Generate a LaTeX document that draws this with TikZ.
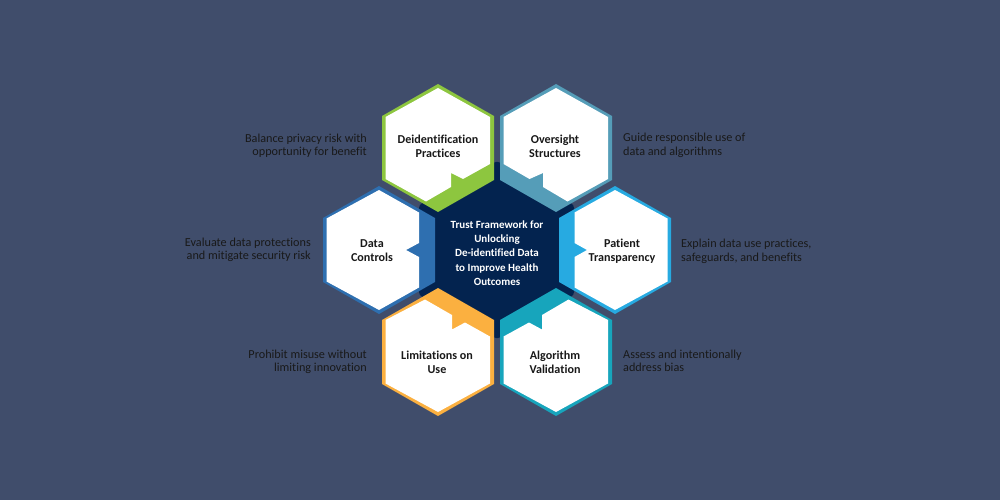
\documentclass[tikz,border=0pt]{standalone}
\usepackage{fontspec}
\setmainfont[Ligatures=NoCommon]{Carlito}
\definecolor{slatebg}{HTML}{404D6B}
\definecolor{navycore}{HTML}{03234F}
\definecolor{deidgreen}{HTML}{8DC63F}
\definecolor{overteal}{HTML}{559DB8}
\definecolor{ctrlblue}{HTML}{2E6FB0}
\definecolor{patsky}{HTML}{27AAE1}
\definecolor{limorange}{HTML}{FBB040}
\definecolor{algoteal}{HTML}{17A5BC}
\tikzset{
	title/.style = {align=center, inner sep=0pt, text=black!90, font=\fontsize{12.1}{14}\selectfont\bfseries},
	core/.style = {align=center, inner sep=0pt, text=white, font=\fontsize{11}{14.3}\selectfont\bfseries},
	noteL/.style = {align=right, anchor=east, inner sep=0pt, text=black!90, font=\fontsize{12.2}{13.5}\selectfont},
	noteR/.style = {align=left, anchor=west, inner sep=0pt, text=black!90, font=\fontsize{12.2}{13.5}\selectfont}
}
\begin{document}
\begin{tikzpicture}[x=1pt,y=-1pt]
	\useasboundingbox (0,0) rectangle (1000,500);
	\fill[slatebg] (0,0) rectangle (1000,500);
	% centre
	\fill[navycore, rounded corners=3pt] (497,161) -- (574,205) -- (574,295) -- (497,339) -- (419,295) -- (419,205) -- cycle;
	% outer hexagons
	\foreach \cx/\cy/\col in {438/148/deidgreen, 556/148/overteal, 379/250/ctrlblue, 615/250/patsky, 438/352/limorange, 556/352/algoteal}
		\fill[\col] (\cx,\cy-64) -- (\cx+56,\cy-32) -- (\cx+56,\cy+32) -- (\cx,\cy+64) -- (\cx-56,\cy+32) -- (\cx-56,\cy-32) -- cycle;
	% white insides with notch
	\fill[white] (438,88) -- (490,117) -- (490,164) -- (463,179) -- (451,173) -- (451,187) -- (426,201.5) -- (385.5,179) -- (385.5,117) -- cycle;
	\fill[white] (556,88) -- (608,117) -- (608,179) -- (567.5,201.5) -- (543,187) -- (543,173) -- (529.5,179) -- (503.5,164) -- (503.5,117) -- cycle;
	\fill[white] (379,190) -- (419,212.5) -- (419,243) -- (406,250) -- (419,257) -- (419,287.5) -- (379,310) -- (326.5,281.5) -- (326.5,218.5) -- cycle;
	\fill[white] (615,190) -- (667.5,218.5) -- (667.5,281.5) -- (615,310) -- (574.5,287.5) -- (574.5,257) -- (587,250) -- (574.5,243) -- (574.5,212.5) -- cycle;
	\fill[white] (425,299.5) -- (452,315) -- (452,329.5) -- (465,322.5) -- (490,336.5) -- (490,383.5) -- (438,412) -- (385.5,383.5) -- (385.5,320) -- cycle;
	\fill[white] (568.5,299.5) -- (608,320) -- (608,383.5) -- (556,412) -- (503.5,383.5) -- (503.5,336.5) -- (529,322.5) -- (542,329.5) -- (542,315) -- cycle;
	% labels
	\node (deid) at (438,146) [title] {Deidentification\\Practices};
	\node (over) at (555,146) [title] {Oversight\\Structures};
	\node (ctrl) at (372,251) [title] {Data\\Controls};
	\node (pat) at (622,251) [title] {Patient\\Transparency};
	\node (lim) at (437,362) [title] {Limitations on\\Use};
	\node (algo) at (555,362) [title] {Algorithm\\Validation};
	\node (trust) at (497,253) [core] {Trust Framework for\\Unlocking\\De-identified Data\\to Improve Health\\Outcomes};
	% side notes
	\node (noteDeid) at (367,145.5) [noteL] {Balance privacy risk with\\opportunity for benefit};
	\node (noteCtrl) at (311,250) [noteL] {Evaluate data protections\\and mitigate security risk};
	\node (noteLim) at (367,362) [noteL] {Prohibit misuse without\\limiting innovation};
	\node (noteOver) at (623,145.5) [noteR] {Guide responsible use of\\data and algorithms};
	\node (notePat) at (681,251.5) [noteR] {Explain data use practices,\\safeguards, and benefits};
	\node (noteAlgo) at (623,361) [noteR] {Assess and intentionally\\address bias};
\end{tikzpicture}
\end{document}
